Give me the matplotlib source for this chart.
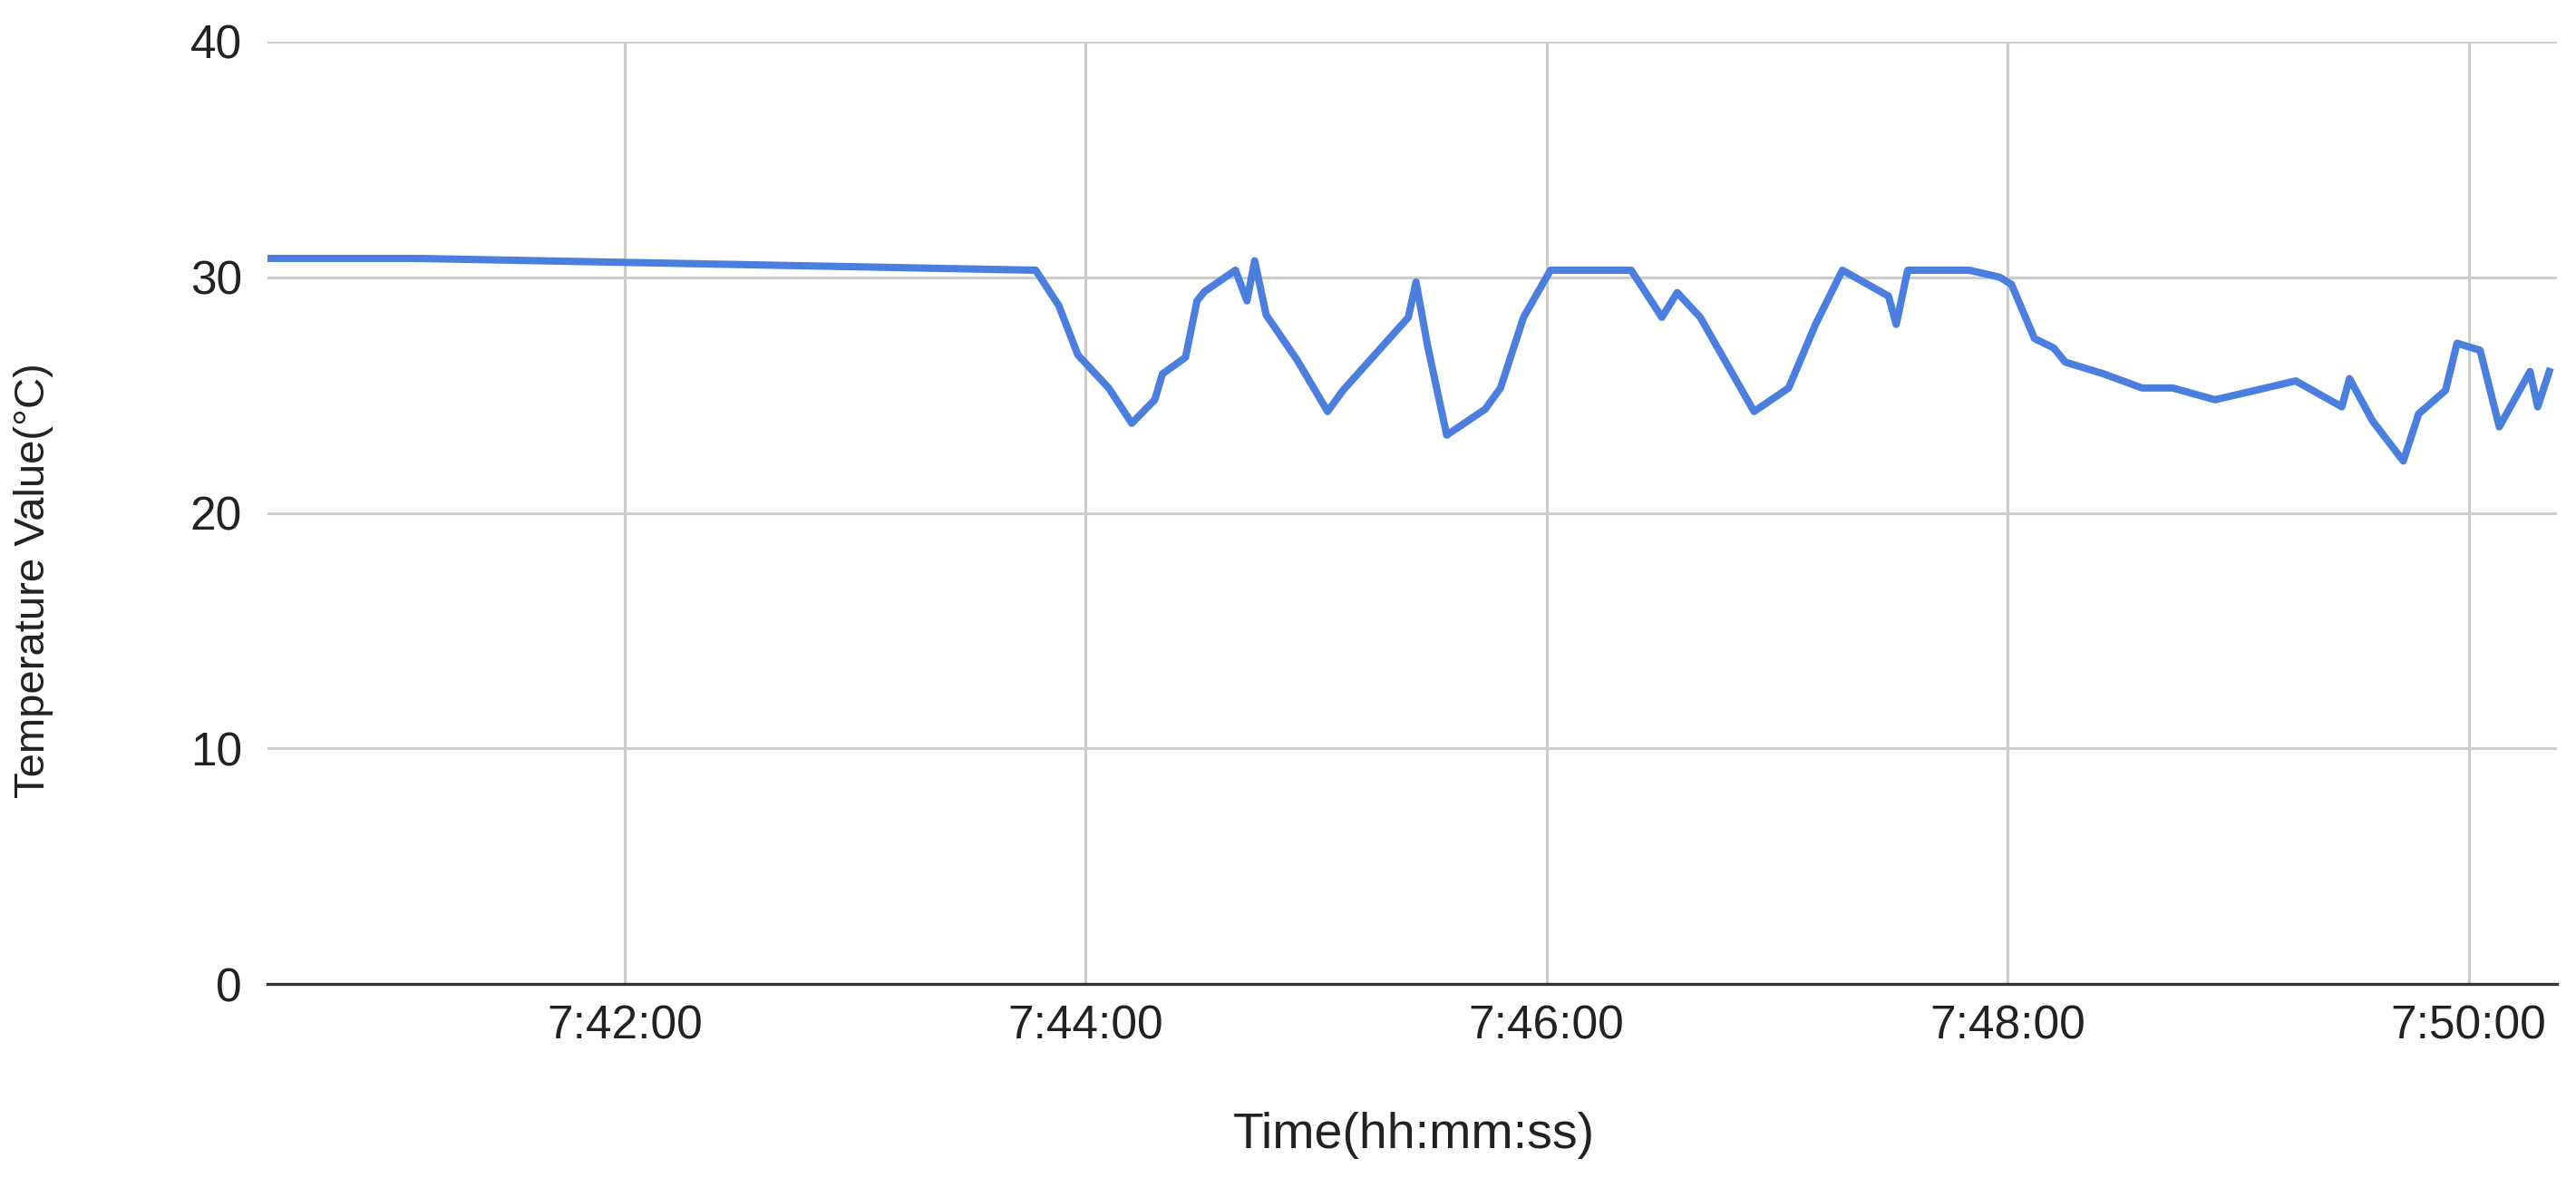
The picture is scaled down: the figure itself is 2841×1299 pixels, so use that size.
import matplotlib
matplotlib.use("Agg")
import matplotlib.pyplot as plt
from datetime import datetime

# readings (time of day, temperature in C)
times = ["7:40:27", "7:41:06", "7:43:47", "7:43:53", "7:43:58", "7:44:06", "7:44:12",
         "7:44:18", "7:44:20", "7:44:26", "7:44:29", "7:44:31", "7:44:39", "7:44:42",
         "7:44:44", "7:44:47", "7:44:55", "7:45:03", "7:45:07", "7:45:24", "7:45:26",
         "7:45:29", "7:45:34", "7:45:44", "7:45:48", "7:45:54", "7:46:01", "7:46:22",
         "7:46:30", "7:46:34", "7:46:40", "7:46:54", "7:47:03", "7:47:10", "7:47:17",
         "7:47:29", "7:47:31", "7:47:34", "7:47:50", "7:47:58", "7:48:01", "7:48:07",
         "7:48:12", "7:48:15", "7:48:25", "7:48:35", "7:48:43", "7:48:54", "7:49:15",
         "7:49:27", "7:49:29", "7:49:35", "7:49:43", "7:49:47", "7:49:54", "7:49:57",
         "7:50:03", "7:50:08", "7:50:16", "7:50:18", "7:50:21"]
temps = [30.8, 30.8, 30.3, 28.8, 26.7, 25.3, 23.8,
         24.8, 25.9, 26.6, 29.0, 29.4, 30.3, 29.0,
         30.7, 28.4, 26.5, 24.3, 25.2, 28.3, 29.8,
         27.1, 23.3, 24.4, 25.3, 28.3, 30.3, 30.3,
         28.3, 29.35, 28.3, 24.3, 25.3, 28.0, 30.3,
         29.2, 28.0, 30.3, 30.3, 30.0, 29.7, 27.4,
         27.0, 26.4, 25.9, 25.3, 25.3, 24.8, 25.6,
         24.5, 25.7, 23.9, 22.2, 24.2, 25.2, 27.2,
         26.9, 23.65, 26.0, 24.5, 26.0]
x_ticks = ["7:42:00", "7:44:00", "7:46:00", "7:48:00", "7:50:00"]
y_ticks = [0, 10, 20, 30, 40]
x_range = ["7:40:27", "7:50:23"]

def to_dt(s):
    return datetime.strptime("2024-01-01 " + s, "%Y-%m-%d %H:%M:%S")

plt.rcParams['font.family'] = ['Liberation Sans', 'DejaVu Sans']

fig = plt.figure(figsize=(28.41, 12.99), dpi=100)
ax = fig.add_axes([0.1038, 0.1647, 0.8888, 0.7999])

ax.plot([to_dt(t) for t in times], temps, color="#4a7fe0", linewidth=5.8,
        solid_joinstyle="round", zorder=3)

ax.set_xlim(to_dt(x_range[0]), to_dt(x_range[1]))
ax.set_ylim(0, 40)
ax.set_yticks(y_ticks)
ax.set_xticks([to_dt(t) for t in x_ticks])
ax.set_xticklabels(x_ticks)

ax.grid(True, color="#cccccc", linewidth=2.2, zorder=0)
for s in ["top", "right", "left"]:
    ax.spines[s].set_visible(False)
ax.spines["bottom"].set_color("#333333")
ax.spines["bottom"].set_linewidth(2.4)
ax.spines["bottom"].set_zorder(4)
ax.tick_params(axis="both", length=0, labelsize=37, colors="#222222")
ax.tick_params(axis="x", pad=16)
ax.tick_params(axis="y", pad=20)

fig.text(1559 / 2841, 1 - 1252 / 1299, "Time(hh:mm:ss)", fontsize=40,
         color="#222222", ha="center", va="center")
fig.text(37 / 2841, 1 - 640 / 1299, "Temperature Value(°C)", fontsize=34,
         color="#222222", ha="center", va="center", rotation=90)

fig.savefig("out.png", dpi=100, facecolor="white")
